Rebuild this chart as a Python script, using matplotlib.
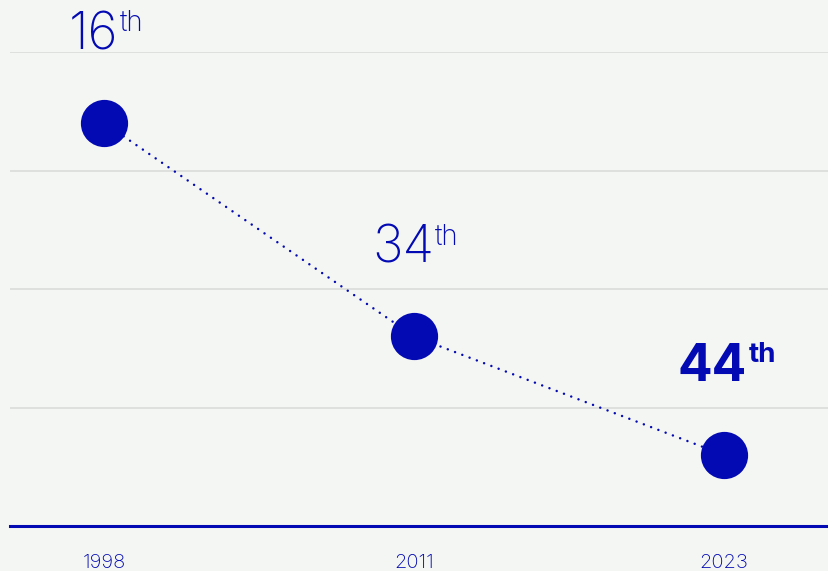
import matplotlib.pyplot as plt

years = ['1998', '2011', '2023']
ranks = [16, 34, 44]
rank_labels = ['16', '34', '44']
bold_label = [False, False, True]

blue = '#0309b3'
bg = '#f4f6f3'
grid = '#d8dad7'

plt.rcParams['font.family'] = ['Inter', 'DejaVu Sans']

fig = plt.figure(figsize=(8.29, 5.71), dpi=100, facecolor=bg)
ax = fig.add_axes([10 / 829, 1 - 526 / 571, 1 - 10 / 829, (526 - 52) / 571])
ax.set_facecolor(bg)

x = list(range(len(years)))
ax.plot(x, ranks, color=blue, lw=1.8, dashes=(0.01, 3.1), dash_capstyle='round',
        zorder=2)
ax.plot(x, ranks, 'o', color=blue, ms=34, mec='none', zorder=3)

ax.set_xlim(-0.305, 2.34)
ax.set_ylim(50, 10)
ax.set_yticks([10, 20, 30, 40])
ax.yaxis.grid(True, color=grid, lw=1.1)
ax.set_axisbelow(True)
ax.tick_params(axis='y', left=False, labelleft=False)
ax.tick_params(axis='x', bottom=False, pad=17, labelsize=14.5, labelcolor=blue)
ax.set_xticks(x)
ax.set_xticklabels(years, fontweight='light')

for side in ['top', 'left', 'right']:
    ax.spines[side].set_visible(False)
ax.spines['bottom'].set_color(blue)
ax.spines['bottom'].set_linewidth(2.2)

# rank labels with superscript ordinal
for xi, r, lab, b in zip(x, ranks, rank_labels, bold_label):
    w = 'bold' if b else 'light'
    num = ax.annotate(lab, (xi, r), xytext=(-8, 53), textcoords='offset points',
                      ha='center', va='baseline', fontsize=37, color=blue,
                      fontweight=w, annotation_clip=False)
    ax.annotate('th', (1, 1), xycoords=num, xytext=(1, 1),
                textcoords='offset points', ha='left', va='top',
                fontsize=20, color=blue, fontweight=w)

fig.savefig('out.png', dpi=100, facecolor=bg)
